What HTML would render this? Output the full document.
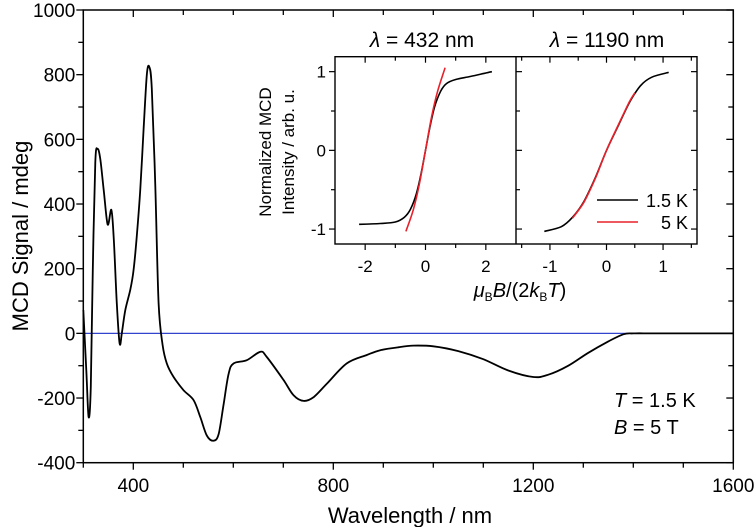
<!DOCTYPE html>
<html><head><meta charset="utf-8"><style>
html,body{margin:0;padding:0;background:#fff;}
svg{display:block;font-family:"Liberation Sans",Arial,sans-serif;}
</style></head><body>
<svg id="chart" width="756" height="527" viewBox="0 0 756 527"></svg>
<script>
// ---- main spectrum data ----
const wavelengths = [300,306,310.7,315,319,324,328.7,334,340.7,348.7,356,360.7,367,372.7,377,384,394,400.7,407,414,420.7,427,432,437,444,450.7,458.7,467,480.7,500.7,520.7,534,547,560.7,570.7,580.7,590.7,600.7,627,654,667,700.7,720.7,740.7,760.7,787,827,867,894,930,960,1000,1050,1100,1150,1200,1230,1270,1310,1350,1380,1400,1450,1600];
const mcdSignal = [72,-114,-259,-165,197,529,570,539,446,337,382,301,93,-31,0,72,135,197,301,446,632,799,824,757,456,93,-36,-93,-135,-176,-207,-259,-316,-332,-311,-218,-124,-93,-83,-57,-73,-145,-192,-209,-197,-156,-93,-67,-52,-43,-38,-40,-55,-80,-115,-135,-128,-100,-60,-25,-3,0,0,0];
const xTicks = [400,800,1200,1600];
const yTicks = [-400,-200,0,200,400,600,800,1000];
// ---- inset data ----
const fieldL = [-2.2,-1.5,-1,-0.7,-0.5,-0.3,-0.15,0,0.15,0.3,0.5,0.7,1,1.5,2.2];
const mcd432_15K = [-0.94,-0.93,-0.91,-0.85,-0.75,-0.55,-0.3,0,0.3,0.55,0.75,0.85,0.9,0.94,1.0];
const fieldL5 = [-0.65,-0.4,-0.2,0,0.2,0.4,0.65];
const mcd432_5K = [-1.03,-0.75,-0.42,0,0.42,0.75,1.05];
const fieldR = [-1.1,-0.8,-0.6,-0.4,-0.2,0,0.2,0.4,0.6,0.8,1.1];
const mcd1190_15K = [-1.03,-0.97,-0.85,-0.65,-0.35,0,0.3,0.6,0.82,0.93,0.99];
const fieldR5 = [-0.6,-0.4,-0.2,0,0.2,0.4,0.5];
const mcd1190_5K = [-0.86,-0.66,-0.36,0,0.31,0.61,0.73];
const insetLTicks = [-2,0,2];
const insetRTicks = [-1,0,1];
const insetYTicks = [-1,0,1];

const NS="http://www.w3.org/2000/svg";
const svg=document.getElementById('chart');
function mk(tag,attrs,parent){const e=document.createElementNS(NS,tag);for(const k in attrs)e.setAttribute(k,attrs[k]);(parent||svg).appendChild(e);return e;}
function txt(s,x,y,size,anchor,parent){const t=mk('text',{x:x,y:y,'font-size':size,'text-anchor':anchor||'middle',fill:'#000'},parent);t.textContent=s;return t;}
function smooth(pts){
  let p='M'+pts[0][0].toFixed(1)+' '+pts[0][1].toFixed(1);
  for(let i=0;i<pts.length-1;i++){
    const p0=pts[Math.max(0,i-1)],p1=pts[i],p2=pts[i+1],p3=pts[Math.min(pts.length-1,i+2)];
    const c1x=p1[0]+(p2[0]-p0[0])/6,c1y=p1[1]+(p2[1]-p0[1])/6;
    const c2x=p2[0]-(p3[0]-p1[0])/6,c2y=p2[1]-(p3[1]-p1[1])/6;
    p+='C'+c1x.toFixed(1)+' '+c1y.toFixed(1)+' '+c2x.toFixed(1)+' '+c2y.toFixed(1)+' '+p2[0].toFixed(1)+' '+p2[1].toFixed(1);
  }
  return p;
}

// main axes
const X0=83.3,X1=733.3,Y0=10,Y1=462.7;
const sx=v=>X0+(v-300)/1300*(X1-X0);
const sy=v=>Y0+(1000-v)/1400*(Y1-Y0);

const zl=mk('line',{x1:X0,x2:X1,y1:sy(0),y2:sy(0),stroke:'#3344cc','stroke-width':1.2});



const sp=mk('path',{d:smooth(wavelengths.map((w,i)=>[sx(w),sy(mcdSignal[i])])),fill:'none',stroke:'#000','stroke-width':1.8,'stroke-linejoin':'round'});



const frame=mk('rect',{x:X0,y:Y0,width:X1-X0,height:Y1-Y0,fill:'none',stroke:'#000','stroke-width':1.5});



for(let w=300;w<=1600;w+=100){
  const major=xTicks.includes(w);
  const L=major?7:5;
  mk('line',{x1:sx(w),x2:sx(w),y1:Y1,y2:Y1+L,stroke:'#000','stroke-width':1.3});
  mk('line',{x1:sx(w),x2:sx(w),y1:Y0,y2:Y0+L,stroke:'#000','stroke-width':1.3});
}
xTicks.forEach(w=>{const t=txt(String(w),sx(w),492,19,'middle');
  
  });
for(let v=-400;v<=1000;v+=100){
  const major=yTicks.includes(v);const L=major?7:5;
  mk('line',{x1:X0-L,x2:X0,y1:sy(v),y2:sy(v),stroke:'#000','stroke-width':1.3});
  mk('line',{x1:X1-L,x2:X1,y1:sy(v),y2:sy(v),stroke:'#000','stroke-width':1.3});
}
yTicks.forEach(v=>{const t=txt(String(v),X0-8,sy(v)+7,19,'end');
  
  });
const xt=txt('Wavelength / nm',410,523,22);


const yt=txt('MCD Signal / mdeg',0,0,22);
yt.setAttribute('transform','translate(28,236) rotate(-90)');



const cond=mk('text',{x:614,y:407,'font-size':20,fill:'#000'});
cond.innerHTML='<tspan font-style="italic">T</tspan> = 1.5 K';


const cond2=mk('text',{x:614,y:434,'font-size':20,fill:'#000'});
cond2.innerHTML='<tspan font-style="italic">B</tspan> = 5 T';



// ---- inset ----
const IY0=56.7,IY1=244,IL0=335,IL1=516,IR1=697;
const iy=v=>IY0+(1.19-v)/2.38*(IY1-IY0);
const lx=v=>IL0+(v+3)/6*(IL1-IL0);
const rx=v=>IL1+(v+1.6)/3.2*(IR1-IL1);
function line(xs,ys,fx,color,name){
  const e=mk('path',{d:smooth(xs.map((x,i)=>[fx(x),iy(ys[i])])),fill:'none',stroke:color,'stroke-width':1.6,'stroke-linejoin':'round'});
  
  
}
line(fieldL,mcd432_15K,lx,'#000','inset-432-1p5K-line');
line(fieldL5,mcd432_5K,lx,'#e8202a','inset-432-5K-line');
line(fieldR,mcd1190_15K,rx,'#000','inset-1190-1p5K-line');
line(fieldR5,mcd1190_5K,rx,'#e8202a','inset-1190-5K-line');

const ifr=mk('rect',{x:IL0,y:IY0,width:IR1-IL0,height:IY1-IY0,fill:'none',stroke:'#000','stroke-width':1.4});


mk('line',{x1:IL1,x2:IL1,y1:IY0,y2:IY1,stroke:'#000','stroke-width':1.4});

for(let v=-3;v<=3;v+=1){ if(lx(v)<=IL0+1||lx(v)>=IL1-1)continue;const L=v%2===0?6:4;
  mk('line',{x1:lx(v),x2:lx(v),y1:IY1,y2:IY1+L,stroke:'#000','stroke-width':1.2});
  mk('line',{x1:lx(v),x2:lx(v),y1:IY0,y2:IY0+L,stroke:'#000','stroke-width':1.2});}
for(let v=-1.5;v<=1.5;v+=0.5){ const L=Number.isInteger(v)?6:4;
  mk('line',{x1:rx(v),x2:rx(v),y1:IY1,y2:IY1+L,stroke:'#000','stroke-width':1.2});
  mk('line',{x1:rx(v),x2:rx(v),y1:IY0,y2:IY0+L,stroke:'#000','stroke-width':1.2});}
for(let v=-1;v<=1;v+=0.5){ const L=Number.isInteger(v)?6:4;
  mk('line',{x1:IL0-L,x2:IL0,y1:iy(v),y2:iy(v),stroke:'#000','stroke-width':1.2});
  mk('line',{x1:IL1,x2:IL1+L,y1:iy(v),y2:iy(v),stroke:'#000','stroke-width':1.2});
  mk('line',{x1:IR1-L,x2:IR1,y1:iy(v),y2:iy(v),stroke:'#000','stroke-width':1.2});}
insetLTicks.forEach(v=>{const t=txt(String(v),lx(v),272,17);
  
  });
insetRTicks.forEach(v=>{const t=txt(String(v),rx(v),272,17);
  
  });
insetYTicks.forEach(v=>{const t=txt(String(v),IL0-9,iy(v)+6,17,'end');
  
  });

const t1=mk('text',{x:422,y:47,'font-size':21,'text-anchor':'middle',fill:'#000'});
t1.innerHTML='<tspan font-style="italic">λ</tspan> = 432 nm';


const t2=mk('text',{x:607,y:47,'font-size':21,'text-anchor':'middle',fill:'#000'});
t2.innerHTML='<tspan font-style="italic">λ</tspan> = 1190 nm';



const iyt=mk('text',{'font-size':17,'text-anchor':'middle',fill:'#000',transform:'translate(271,152) rotate(-90)'});
iyt.innerHTML='<tspan x="0" dy="0">Normalized MCD</tspan><tspan x="0" dy="23">Intensity / arb. u.</tspan>';



const ixt=mk('text',{x:520,y:297,'font-size':20,'text-anchor':'middle',fill:'#000'});
ixt.innerHTML='<tspan font-style="italic">μ</tspan><tspan font-size="12" dy="4">B</tspan><tspan font-style="italic" dy="-4">B</tspan>/(2<tspan font-style="italic">k</tspan><tspan font-size="12" dy="4">B</tspan><tspan font-style="italic" dy="-4">T</tspan>)';



const lg1=mk('line',{x1:597,x2:638,y1:200,y2:200,stroke:'#000','stroke-width':1.6});


const lt1=txt('1.5 K',688,207,18,'end');


const lg2=mk('line',{x1:597,x2:638,y1:222,y2:222,stroke:'#e8202a','stroke-width':1.6});


const lt2=txt('5 K',688,229,18,'end');


</script>
</body></html>
